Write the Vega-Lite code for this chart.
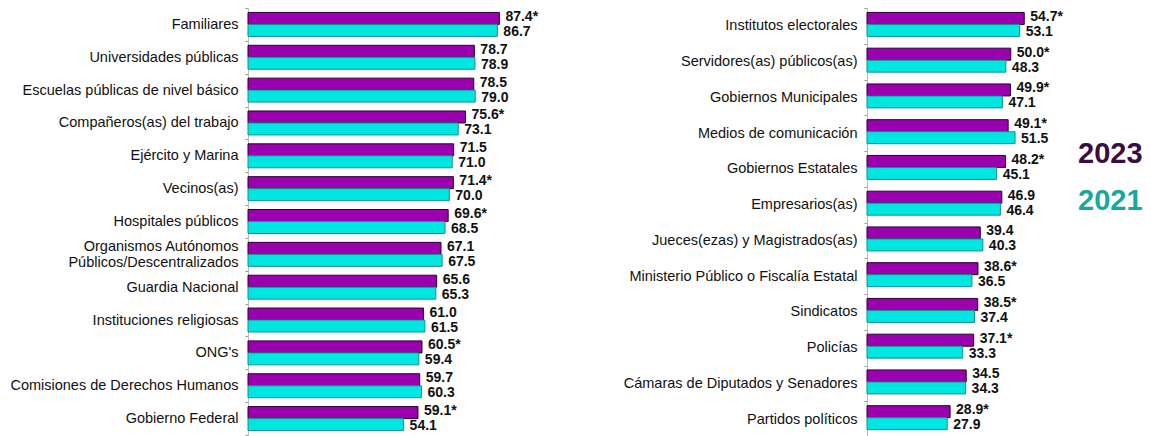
{
  "$schema": "https://vega.github.io/schema/vega-lite/v6.json",
  "padding": {"left": 0, "top": 0, "right": 5, "bottom": 0},
  "spacing": 0,
  "datasets": {
    "rows": [
      {"panel": "L", "ord": 1, "cat": "Familiares", "year": "2023", "value": 87.4, "lbl": "87.4*"},
      {"panel": "L", "ord": 1, "cat": "Familiares", "year": "2021", "value": 86.7, "lbl": "86.7"},
      {"panel": "L", "ord": 2, "cat": "Universidades públicas", "year": "2023", "value": 78.7, "lbl": "78.7"},
      {"panel": "L", "ord": 2, "cat": "Universidades públicas", "year": "2021", "value": 78.9, "lbl": "78.9"},
      {"panel": "L", "ord": 3, "cat": "Escuelas públicas de nivel básico", "year": "2023", "value": 78.5, "lbl": "78.5"},
      {"panel": "L", "ord": 3, "cat": "Escuelas públicas de nivel básico", "year": "2021", "value": 79.0, "lbl": "79.0"},
      {"panel": "L", "ord": 4, "cat": "Compañeros(as) del trabajo", "year": "2023", "value": 75.6, "lbl": "75.6*"},
      {"panel": "L", "ord": 4, "cat": "Compañeros(as) del trabajo", "year": "2021", "value": 73.1, "lbl": "73.1"},
      {"panel": "L", "ord": 5, "cat": "Ejército y Marina", "year": "2023", "value": 71.5, "lbl": "71.5"},
      {"panel": "L", "ord": 5, "cat": "Ejército y Marina", "year": "2021", "value": 71.0, "lbl": "71.0"},
      {"panel": "L", "ord": 6, "cat": "Vecinos(as)", "year": "2023", "value": 71.4, "lbl": "71.4*"},
      {"panel": "L", "ord": 6, "cat": "Vecinos(as)", "year": "2021", "value": 70.0, "lbl": "70.0"},
      {"panel": "L", "ord": 7, "cat": "Hospitales públicos", "year": "2023", "value": 69.6, "lbl": "69.6*"},
      {"panel": "L", "ord": 7, "cat": "Hospitales públicos", "year": "2021", "value": 68.5, "lbl": "68.5"},
      {"panel": "L", "ord": 8, "cat": "Organismos Autónomos|Públicos/Descentralizados", "year": "2023", "value": 67.1, "lbl": "67.1"},
      {"panel": "L", "ord": 8, "cat": "Organismos Autónomos|Públicos/Descentralizados", "year": "2021", "value": 67.5, "lbl": "67.5"},
      {"panel": "L", "ord": 9, "cat": "Guardia Nacional", "year": "2023", "value": 65.6, "lbl": "65.6"},
      {"panel": "L", "ord": 9, "cat": "Guardia Nacional", "year": "2021", "value": 65.3, "lbl": "65.3"},
      {"panel": "L", "ord": 10, "cat": "Instituciones religiosas", "year": "2023", "value": 61.0, "lbl": "61.0"},
      {"panel": "L", "ord": 10, "cat": "Instituciones religiosas", "year": "2021", "value": 61.5, "lbl": "61.5"},
      {"panel": "L", "ord": 11, "cat": "ONG's", "year": "2023", "value": 60.5, "lbl": "60.5*"},
      {"panel": "L", "ord": 11, "cat": "ONG's", "year": "2021", "value": 59.4, "lbl": "59.4"},
      {"panel": "L", "ord": 12, "cat": "Comisiones de Derechos Humanos", "year": "2023", "value": 59.7, "lbl": "59.7"},
      {"panel": "L", "ord": 12, "cat": "Comisiones de Derechos Humanos", "year": "2021", "value": 60.3, "lbl": "60.3"},
      {"panel": "L", "ord": 13, "cat": "Gobierno Federal", "year": "2023", "value": 59.1, "lbl": "59.1*"},
      {"panel": "L", "ord": 13, "cat": "Gobierno Federal", "year": "2021", "value": 54.1, "lbl": "54.1"},
      {"panel": "R", "ord": 1, "cat": "Institutos electorales", "year": "2023", "value": 54.7, "lbl": "54.7*"},
      {"panel": "R", "ord": 1, "cat": "Institutos electorales", "year": "2021", "value": 53.1, "lbl": "53.1"},
      {"panel": "R", "ord": 2, "cat": "Servidores(as) públicos(as)", "year": "2023", "value": 50.0, "lbl": "50.0*"},
      {"panel": "R", "ord": 2, "cat": "Servidores(as) públicos(as)", "year": "2021", "value": 48.3, "lbl": "48.3"},
      {"panel": "R", "ord": 3, "cat": "Gobiernos Municipales", "year": "2023", "value": 49.9, "lbl": "49.9*"},
      {"panel": "R", "ord": 3, "cat": "Gobiernos Municipales", "year": "2021", "value": 47.1, "lbl": "47.1"},
      {"panel": "R", "ord": 4, "cat": "Medios de comunicación", "year": "2023", "value": 49.1, "lbl": "49.1*"},
      {"panel": "R", "ord": 4, "cat": "Medios de comunicación", "year": "2021", "value": 51.5, "lbl": "51.5"},
      {"panel": "R", "ord": 5, "cat": "Gobiernos Estatales", "year": "2023", "value": 48.2, "lbl": "48.2*"},
      {"panel": "R", "ord": 5, "cat": "Gobiernos Estatales", "year": "2021", "value": 45.1, "lbl": "45.1"},
      {"panel": "R", "ord": 6, "cat": "Empresarios(as)", "year": "2023", "value": 46.9, "lbl": "46.9"},
      {"panel": "R", "ord": 6, "cat": "Empresarios(as)", "year": "2021", "value": 46.4, "lbl": "46.4"},
      {"panel": "R", "ord": 7, "cat": "Jueces(ezas) y Magistrados(as)", "year": "2023", "value": 39.4, "lbl": "39.4"},
      {"panel": "R", "ord": 7, "cat": "Jueces(ezas) y Magistrados(as)", "year": "2021", "value": 40.3, "lbl": "40.3"},
      {"panel": "R", "ord": 8, "cat": "Ministerio Público o Fiscalía Estatal", "year": "2023", "value": 38.6, "lbl": "38.6*"},
      {"panel": "R", "ord": 8, "cat": "Ministerio Público o Fiscalía Estatal", "year": "2021", "value": 36.5, "lbl": "36.5"},
      {"panel": "R", "ord": 9, "cat": "Sindicatos", "year": "2023", "value": 38.5, "lbl": "38.5*"},
      {"panel": "R", "ord": 9, "cat": "Sindicatos", "year": "2021", "value": 37.4, "lbl": "37.4"},
      {"panel": "R", "ord": 10, "cat": "Policías", "year": "2023", "value": 37.1, "lbl": "37.1*"},
      {"panel": "R", "ord": 10, "cat": "Policías", "year": "2021", "value": 33.3, "lbl": "33.3"},
      {"panel": "R", "ord": 11, "cat": "Cámaras de Diputados y Senadores", "year": "2023", "value": 34.5, "lbl": "34.5"},
      {"panel": "R", "ord": 11, "cat": "Cámaras de Diputados y Senadores", "year": "2021", "value": 34.3, "lbl": "34.3"},
      {"panel": "R", "ord": 12, "cat": "Partidos políticos", "year": "2023", "value": 28.9, "lbl": "28.9*"},
      {"panel": "R", "ord": 12, "cat": "Partidos políticos", "year": "2021", "value": 27.9, "lbl": "27.9"}
    ]
  },
  "hconcat": [
    {
      "width": 302,
      "height": 427,
      "data": {"name": "rows"},
      "transform": [{"filter": "datum.panel == 'L'"}],
      "encoding": {
        "y": {
          "field": "cat", "type": "nominal",
          "sort": {"field": "ord", "op": "min", "order": "ascending"},
          "scale": {"paddingInner": 0, "paddingOuter": 0},
          "axis": {"title": null, "minExtent": 248, "maxExtent": 248, "labelExpr": "split(datum.label, '|')", "labelLimit": 240,
            "labelOffset": {"condition": {"test": "indexof(datum.label, '|') >= 0", "value": -8}, "value": 0}}
        },
        "yOffset": {"field": "year", "type": "nominal", "sort": ["2023", "2021"], "scale": {"paddingInner": 0, "paddingOuter": 0.37}},
        "x": {"field": "value", "type": "quantitative", "scale": {"domain": [0, 105], "nice": false, "zero": true}, "axis": null}
      },
      "layer": [
        {
          "mark": {"type": "bar", "strokeWidth": 1},
          "encoding": {
            "color": {"field": "year", "type": "nominal", "scale": {"domain": ["2023", "2021"], "range": ["#9a00ad", "#00e6e0"]},
              "legend": {"orient": "none", "legendX": 801, "legendY": 131, "title": null}},
            "stroke": {"field": "year", "type": "nominal", "scale": {"domain": ["2023", "2021"], "range": ["#2a0034", "#1b8f8b"]}, "legend": null}
          }
        },
        {
          "transform": [{"filter": "datum.year == '2023'"}],
          "mark": {"type": "text", "align": "left", "baseline": "middle", "dx": 6, "dy": -1.5, "font": "Liberation Sans", "fontSize": 14, "fontWeight": "bold", "color": "#111111"},
          "encoding": {"text": {"field": "lbl"}}
        },
        {
          "transform": [{"filter": "datum.year == '2021'"}],
          "mark": {"type": "text", "align": "left", "baseline": "middle", "dx": 6, "dy": 1.5, "font": "Liberation Sans", "fontSize": 14, "fontWeight": "bold", "color": "#111111"},
          "encoding": {"text": {"field": "lbl"}}
        }
      ]
    },
    {
      "width": 184,
      "height": 429,
      "data": {"name": "rows"},
      "transform": [{"filter": "datum.panel == 'R'"}],
      "encoding": {
        "y": {
          "field": "cat", "type": "nominal",
          "sort": {"field": "ord", "op": "min", "order": "ascending"},
          "scale": {"paddingInner": 0, "paddingOuter": 0},
          "axis": {"title": null, "minExtent": 317, "maxExtent": 317, "labelLimit": 300}
        },
        "yOffset": {"field": "year", "type": "nominal", "sort": ["2023", "2021"], "scale": {"paddingInner": 0, "paddingOuter": 0.275}},
        "x": {"field": "value", "type": "quantitative", "scale": {"domain": [0, 64], "nice": false, "zero": true}, "axis": null}
      },
      "layer": [
        {
          "mark": {"type": "bar", "strokeWidth": 1},
          "encoding": {
            "color": {"field": "year", "type": "nominal", "scale": {"domain": ["2023", "2021"], "range": ["#9a00ad", "#00e6e0"]},
              "legend": {"orient": "none", "legendX": 801, "legendY": 131, "title": null}},
            "stroke": {"field": "year", "type": "nominal", "scale": {"domain": ["2023", "2021"], "range": ["#2a0034", "#1b8f8b"]}, "legend": null}
          }
        },
        {
          "transform": [{"filter": "datum.year == '2023'"}],
          "mark": {"type": "text", "align": "left", "baseline": "middle", "dx": 6, "dy": -1.5, "font": "Liberation Sans", "fontSize": 14, "fontWeight": "bold", "color": "#111111"},
          "encoding": {"text": {"field": "lbl"}}
        },
        {
          "transform": [{"filter": "datum.year == '2021'"}],
          "mark": {"type": "text", "align": "left", "baseline": "middle", "dx": 6, "dy": 1.5, "font": "Liberation Sans", "fontSize": 14, "fontWeight": "bold", "color": "#111111"},
          "encoding": {"text": {"field": "lbl"}}
        }
      ]
    }
  ],
  "config": {
    "view": {"stroke": null},
    "axisY": {
      "domainColor": "#bbbbbb",
      "tickColor": "#999999",
      "tickSize": 3,
      "tickBand": "extent",
      "labelPadding": 7,
      "labelFont": "Liberation Sans",
      "labelFontSize": 14.5,
      "labelColor": "#111111",
      "labelLineHeight": 16
    },
    "legend": {
      "symbolSize": 0,
      "symbolOpacity": 0,
      "symbolStrokeWidth": 0,
      "labelOffset": 0,
      "labelFont": "Liberation Sans",
      "labelFontSize": 29,
      "labelFontWeight": "bold",
      "labelColor": {"expr": "datum.label == '2023' ? '#3a0d42' : '#17a89f'"},
      "rowPadding": 17,
      "padding": 0
    }
  }
}
